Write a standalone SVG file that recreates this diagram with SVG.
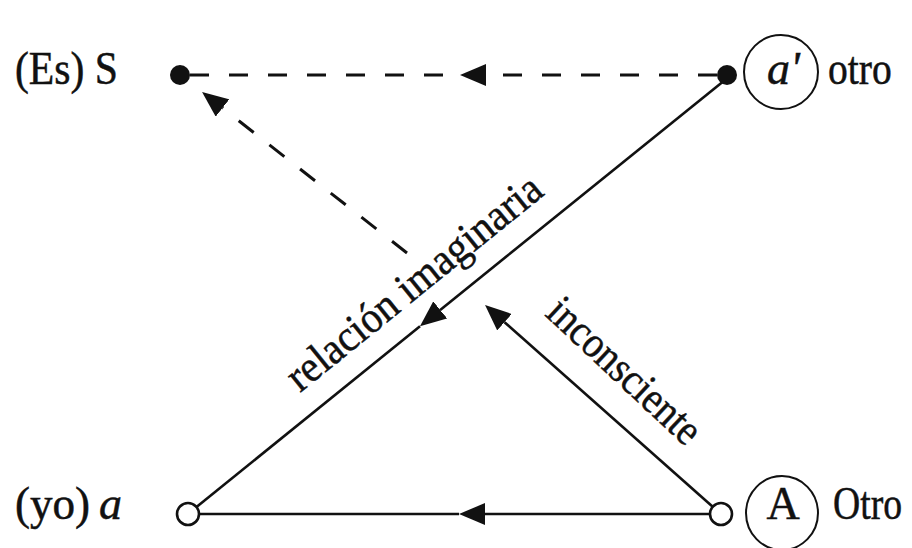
<svg xmlns="http://www.w3.org/2000/svg" width="912" height="548" viewBox="0 0 912 548">
<style>
.t{font-family:"Liberation Serif","Times New Roman",serif;font-size:46px;fill:#111;stroke:#111;stroke-width:0.5}
.ln{stroke:#111;stroke-width:2.6;fill:none}
.ds{stroke:#111;stroke-width:3;fill:none;stroke-dasharray:19 20}
.ring{stroke:#111;stroke-width:2;fill:none}
</style>
<defs>
<marker id="ah" markerUnits="userSpaceOnUse" viewBox="0 0 26 22" refX="0" refY="11" markerWidth="26" markerHeight="22" orient="auto">
<path d="M0,0 L26,11 L0,22 Z" fill="#111"/>
</marker>
</defs>
<rect width="912" height="548" fill="#fff"/>
<g id="connectors">
<path class="ds" d="M190,75 L460,75"/>
<path class="ds" d="M717,75 L486,75" marker-end="url(#ah)"/>
<path class="ds" d="M407,253 L222.5,108" marker-end="url(#ah)"/>
<path class="ln" d="M725,80 L440.2,309.9" marker-end="url(#ah)"/>
<path class="ln" d="M420,326.2 L196.5,507"/>
<path class="ln" d="M713,507 L504.5,322.2" marker-end="url(#ah)"/>
<path class="ln" d="M710,514 L485,514" marker-end="url(#ah)"/>
<path class="ln" d="M459,514 L199,514"/>
<text class="t" textLength="316" lengthAdjust="spacingAndGlyphs" transform="translate(300,393) rotate(-39)" style="font-size:44px">relación imaginaria</text>
<text class="t" textLength="194" lengthAdjust="spacingAndGlyphs" transform="translate(544,315) rotate(43)" style="font-size:44px">inconsciente</text>
</g>
<g id="S">
<circle cx="180" cy="75" r="10" fill="#111"/>
<text class="t" x="15" y="84" textLength="103" lengthAdjust="spacingAndGlyphs">(Es) S</text>
</g>
<g id="a-prime">
<circle cx="727" cy="75" r="10" fill="#111"/>
<ellipse class="ring" cx="781" cy="72" rx="37" ry="37"/>
<text class="t" x="767" y="84" font-style="italic">a'</text>
<text class="t" transform="translate(828,84) scale(0.86,1)">otro</text>
</g>
<g id="yo-a">
<circle class="ln" cx="188" cy="514" r="11" fill="#fff"/>
<text class="t" transform="translate(15,519) scale(0.98,1)">(yo)</text>
<text class="t" x="99" y="519" font-style="italic">a</text>
</g>
<g id="A">
<circle class="ln" cx="721" cy="514" r="11" fill="#fff"/>
<ellipse class="ring" cx="782" cy="513" rx="36" ry="37"/>
<text class="t" x="783" y="519" text-anchor="middle">A</text>
<text class="t" transform="translate(833,519) scale(0.82,1)">Otro</text>
</g>
</svg>
